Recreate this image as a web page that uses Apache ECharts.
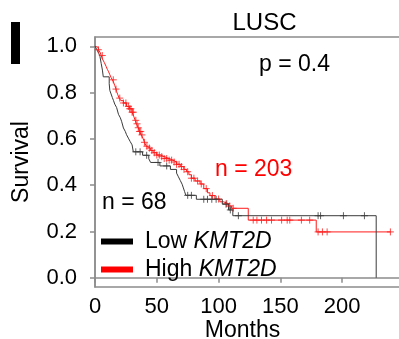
<!DOCTYPE html>
<html>
<head>
<meta charset="utf-8">
<script src="https://cdn.jsdelivr.net/npm/echarts@6/dist/echarts.min.js"></script>
<style>
html,body{margin:0;padding:0;background:#fff;}
#chart{width:399px;height:339px;}
</style>
</head>
<body>
<div id="chart"></div>
<script>
// ---- Data ----
const title = 'LUSC';
const pText = 'p = 0.4';
const lowLabel = 'Low';
const highLabel = 'High';
const gene = 'KMT2D';
const nLow = 68;
const nHigh = 203;
const xTicks = [0, 50, 100, 150, 200];
const yTicks = [0.0, 0.2, 0.4, 0.6, 0.8, 1.0];

// Low KMT2D: event times (months) and survival after each event
const lowTimes = [0, 1.5, 3, 4, 5, 6, 6.7, 11.5, 12, 13, 14, 15, 16, 17.5, 19, 20.5, 21.5, 23, 24.5, 25.5, 27, 28.5, 30, 31,
  38.5, 43.5, 45, 52.5, 61, 66, 67.5, 69, 70.5, 71.5, 72.5, 73.5, 82, 103, 108, 111.5, 227.5];
const lowSurv = [1.0, 0.985, 0.97, 0.956, 0.926, 0.897, 0.868, 0.838, 0.809, 0.794, 0.779, 0.765, 0.75, 0.735, 0.706, 0.691, 0.676, 0.647, 0.632, 0.618, 0.603, 0.588, 0.574, 0.544,
  0.529, 0.514, 0.498, 0.483, 0.468, 0.452, 0.436, 0.42, 0.404, 0.388, 0.372, 0.356, 0.339, 0.318, 0.293, 0.268, 0.0];
const lowCensor = [33, 36.5, 41.8, 51, 58, 75, 78, 88, 91, 94.5, 98, 106, 109.5, 116, 180.5, 182.5, 201, 218];

// High KMT2D
const highTimes = [0, 1.5, 2.7, 4, 5, 6, 7.5, 9, 10, 11, 12, 13, 14, 15, 16, 17, 17.5, 18.5, 19.5, 21, 23, 25.5, 28, 30, 31.5, 32.5, 33.5,
  35, 36, 37.5, 39, 40, 41.5, 43, 45, 47, 50, 53, 56, 60, 63, 66, 69, 72, 74, 76, 78, 81, 85, 88, 91, 93, 97, 101, 104, 108, 110.5,
  124, 179, 239];
const highSurv = [1.0, 0.995, 0.985, 0.975, 0.96, 0.945, 0.93, 0.913, 0.9, 0.89, 0.877, 0.865, 0.855, 0.845, 0.83, 0.815, 0.804, 0.79, 0.776, 0.765, 0.755, 0.74, 0.73, 0.715, 0.695, 0.68, 0.665,
  0.648, 0.632, 0.617, 0.6, 0.585, 0.568, 0.56, 0.55, 0.54, 0.53, 0.523, 0.515, 0.508, 0.5, 0.49, 0.48, 0.468, 0.458, 0.445, 0.43, 0.418, 0.405, 0.385, 0.367, 0.355, 0.34, 0.328, 0.32, 0.31, 0.3,
  0.249, 0.198, 0.198];
const highCensor = [2.7, 5.9, 14.8, 17, 20, 23, 25, 27, 28, 29, 30, 31, 33, 34, 35, 36, 37, 38, 40, 42, 44, 46, 48, 50, 52, 54, 56, 58, 60,
  62, 64, 66, 68, 70, 72, 75, 78, 80, 83, 86, 90, 95, 100, 106.6, 109, 111.8, 128, 131, 134.7, 138.8, 142.8, 151, 155.5, 157.6, 167, 173.7,
  180.5, 184, 187.8, 239];

// ---- Build ----
function survAt(times, surv, t) {
  let s = surv[0];
  for (let i = 0; i < times.length; i++) { if (times[i] <= t) s = surv[i]; }
  return s;
}
const lowLine = lowTimes.map((t, i) => [t, lowSurv[i]]);
const highLine = highTimes.map((t, i) => [t, highSurv[i]]);
const lowMarks = lowCensor.map(t => [t, survAt(lowTimes, lowSurv, t)]);
const highMarks = highCensor.map(t => [t, survAt(highTimes, highSurv, t)]);

const FONT = 'Liberation Sans, Arial, Helvetica, sans-serif';
const AX = '#8c8c8c';
const TXT = '#000';
const BLACK = '#3a3a3a';
const RED = '#ff1a1a';
const plus = 'path://M0,5L10,5M5,0L5,10';

const chart = echarts.init(document.getElementById('chart'), null, {renderer: 'canvas'});
chart.setOption({
  animation: false,
  backgroundColor: '#fff',
  textStyle: {fontFamily: FONT},
  grid: {left: 95, right: -5, top: 37, bottom: 52, show: true, borderColor: AX, borderWidth: 1.5,
    containLabel: false, outerBoundsMode: 'none'},
  xAxis: {
    type: 'value', min: 0, max: 250,
    name: 'Months', nameLocation: 'middle', nameGap: 32, nameMoveOverlap: false,
    nameTextStyle: {fontSize: 23, color: TXT, fontFamily: FONT, padding: [0, 14, 0, 0]},
    axisLine: {show: true, lineStyle: {color: AX, width: 1.5}},
    axisTick: {show: true, length: 5, lineStyle: {color: AX, width: 1.5}, customValues: xTicks},
    axisLabel: {fontSize: 22, color: TXT, margin: 9, fontFamily: FONT, customValues: xTicks},
    splitLine: {show: false}
  },
  yAxis: {
    type: 'value', min: -0.04, max: 1.04,
    name: 'Survival', nameLocation: 'middle', nameGap: 62, nameRotate: 90, nameMoveOverlap: false,
    nameTextStyle: {fontSize: 23, color: TXT, fontFamily: FONT},
    axisLine: {show: true, lineStyle: {color: AX, width: 1.5}},
    axisTick: {show: true, length: 5, lineStyle: {color: AX, width: 1.5}, customValues: yTicks},
    axisLabel: {fontSize: 22, color: TXT, margin: 18, fontFamily: FONT, customValues: yTicks,
      formatter: v => v.toFixed(1)},
    splitLine: {show: false}
  },
  legend: {
    orient: 'vertical', left: 96, top: 225, itemGap: 5,
    itemWidth: 32, itemHeight: 6, icon: 'rect',
    data: [
      {name: lowLabel + ' ' + gene, itemStyle: {color: '#000'}},
      {name: highLabel + ' ' + gene, itemStyle: {color: '#ff0000'}}
    ],
    formatter: name => {
      const parts = name.split(' ');
      return parts[0] + ' {i|' + parts[1] + '}';
    },
    textStyle: {fontSize: 23, color: TXT, fontFamily: FONT, padding: [0, 0, 0, 7],
      rich: {i: {fontStyle: 'italic', fontSize: 23, color: TXT, fontFamily: FONT}}}
  },
  series: [
    {name: lowLabel + ' ' + gene, type: 'line', step: 'end', data: lowLine, showSymbol: false, symbol: 'none',
      lineStyle: {color: BLACK, width: 1}, itemStyle: {color: BLACK}, silent: true, z: 3},
    {name: highLabel + ' ' + gene, type: 'line', step: 'end', data: highLine, showSymbol: false, symbol: 'none',
      lineStyle: {color: RED, width: 1}, itemStyle: {color: RED}, silent: true, z: 2},
    {name: 'lowCensor', type: 'scatter', data: lowMarks, symbol: plus, symbolSize: 7,
      itemStyle: {color: 'none', borderColor: BLACK, borderWidth: 1}, silent: true, z: 4},
    {name: 'highCensor', type: 'scatter', data: highMarks, symbol: plus, symbolSize: 7,
      itemStyle: {color: 'none', borderColor: RED, borderWidth: 1, opacity: 0.8}, silent: true, z: 3}
  ],
  graphic: [
    {type: 'rect', left: 11, top: 22, shape: {width: 9, height: 42}, style: {fill: '#000'}},
    {type: 'text', x: 264.5, y: 23, style: {text: title, fontSize: 24, fontFamily: FONT, fill: TXT, align: 'center', verticalAlign: 'middle'}},
    {type: 'text', x: 259, y: 65, style: {text: pText, fontSize: 23, fontFamily: FONT, fill: TXT, align: 'left', verticalAlign: 'middle'}},
    {type: 'text', x: 215, y: 170, style: {text: 'n = ' + nHigh, fontSize: 23, fontFamily: FONT, fill: '#ff0000', align: 'left', verticalAlign: 'middle'}},
    {type: 'text', x: 102, y: 202.5, style: {text: 'n = ' + nLow, fontSize: 23, fontFamily: FONT, fill: TXT, align: 'left', verticalAlign: 'middle'}}
  ]
});
</script>
</body>
</html>
